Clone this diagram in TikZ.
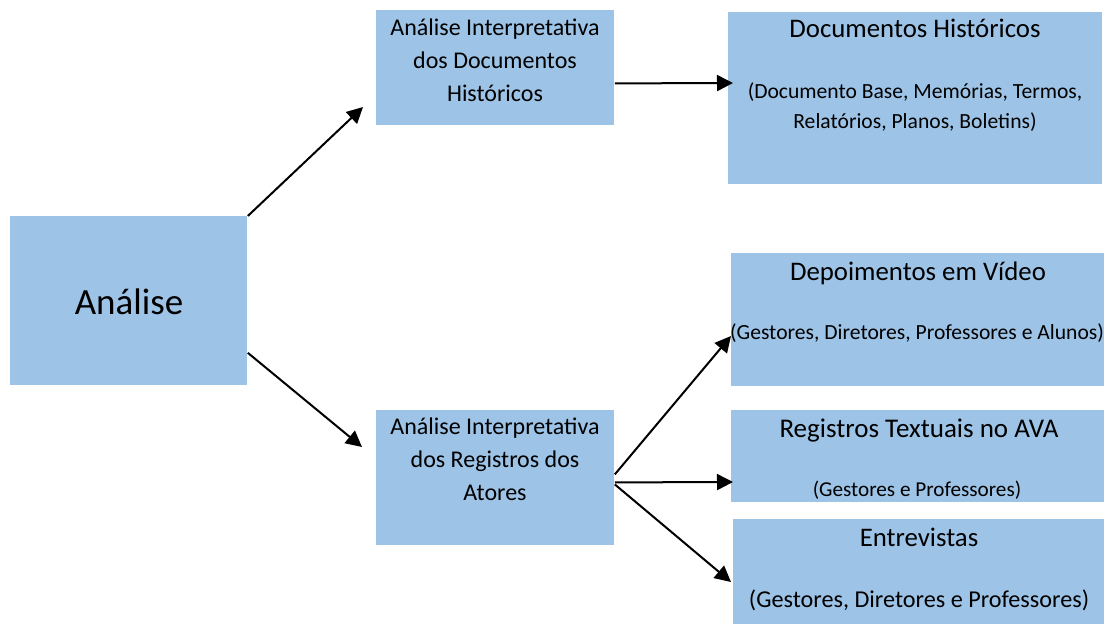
\documentclass[tikz,border=0pt]{standalone}
\usepackage{fontspec}
\setmainfont{Carlito}
\usetikzlibrary{arrows.meta}
\definecolor{boxblue}{HTML}{9DC3E6}

\tikzset{
  box/.style={fill=boxblue, anchor=north west, inner sep=0pt},
  lbl/.style={inner sep=0pt, align=center, anchor=base},
  arr/.style={-{Triangle[length=8pt,width=8pt]}, line width=1pt},
}

\begin{document}
\begin{tikzpicture}[x=0.5pt,y=-0.5pt]
\useasboundingbox (0,0) rectangle (1104,623);

% boxes
\node[box, minimum width=118.5pt, minimum height=84.5pt] (ana) at (10,216) {};
\node[box, minimum width=119pt, minimum height=57.5pt] (hdoc) at (376,10) {};
\node[box, minimum width=119pt, minimum height=67.5pt] (hreg) at (376,410) {};
\node[box, minimum width=187pt, minimum height=86pt] (docs) at (728,12) {};
\node[box, minimum width=186.5pt, minimum height=66.5pt] (dep) at (731,253) {};
\node[box, minimum width=186.5pt, minimum height=46pt] (reg) at (731,410) {};
\node[box, minimum width=185.5pt, minimum height=52.5pt] (ent) at (733,519) {};

% texts (base = last line)
\node[lbl, font=\fontsize{18.5}{22}\selectfont] (anat) at (129,314) {Análise};
\node[lbl, font=\fontsize{12}{16.5}\selectfont] (hdoct) at (495,101)
  {Análise Interpretativa\\dos Documentos\\Históricos};
\node[lbl, font=\fontsize{12}{16.5}\selectfont] (hregt) at (495,500)
  {Análise Interpretativa\\dos Registros dos\\Atores};
\node[lbl, font=\fontsize{13.4}{16}\selectfont] (docst) at (915,37) {Documentos Históricos};
\node[lbl, font=\fontsize{10.8}{15}\selectfont] (docss) at (915,128)
  {(Documento Base, Memórias, Termos,\\Relatórios, Planos, Boletins)};
\node[lbl, font=\fontsize{13.4}{16}\selectfont] (dept) at (918,280) {Depoimentos em Vídeo};
\node[lbl, font=\fontsize{10.8}{15}\selectfont] (deps) at (917,339)
  {(Gestores, Diretores, Professores e Alunos)};
\node[lbl, font=\fontsize{13.5}{16}\selectfont] (regt) at (919,437) {Registros Textuais no AVA};
\node[lbl, font=\fontsize{10.6}{14}\selectfont] (regs) at (917,496) {(Gestores e Professores)};
\node[lbl, font=\fontsize{13.4}{16}\selectfont] (entt) at (919,546) {Entrevistas};
\node[lbl, font=\fontsize{12.1}{16}\selectfont] (ents) at (919,607)
  {(Gestores, Diretores e Professores)};

% arrow ends
\coordinate (e1) at (363,107);
\coordinate (e2) at (362,447);
\coordinate (e3) at (733,83);
\coordinate (e4) at (731,336);
\coordinate (e5) at (733,482);
\coordinate (e6) at (731,582);

\draw[arr] (ana.north east) -- (e1);
\draw[arr] ([yshift=16.5pt]ana.south east) -- (e2);
\draw[arr] ([yshift=-7.75pt]hdoc.east) -- (e3);
\draw[arr] ([yshift=1.75pt]hreg.east) -- (e4);
\draw[arr] ([yshift=-2.25pt]hreg.east) -- (e5);
\draw[arr] ([yshift=-3.25pt]hreg.east) -- (e6);

\end{tikzpicture}
\end{document}
